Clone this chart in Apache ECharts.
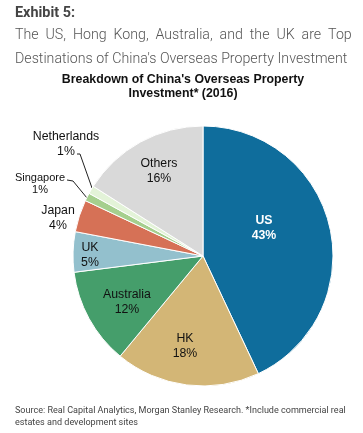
<!DOCTYPE html>
<html><head><meta charset="utf-8">
<style>html,body{margin:0;padding:0;background:#fff}#c{width:363px;height:433px}</style>
<script src="https://cdn.jsdelivr.net/npm/echarts@6/dist/echarts.min.js"></script></head>
<body><div id="c"></div>
<script>
const categories=["US","HK","Australia","UK","Japan","Singapore","Netherlands","Others"];
const values=[43,18,12,5,4,1,1,16];
const colors=["#0f6d9c","#d3b676","#459e6b","#93c0cd","#d67156","#a5cf8e","#e3f3d8","#d9d9d9"];
const labelCentres={US:[264,228],HK:[185,346],Australia:[127,302],UK:[90,255],Japan:[58,218],Singapore:[40,184],Netherlands:[66,144],Others:[159,171]};
const leaderLines={Netherlands:[[92,188],[80,154],[77,154]],Singapore:[[87,198],[73,181],[67,180]]};
const chart=echarts.init(document.getElementById('c'),null,{renderer:'canvas'});
chart.setOption({
 animation:false,
 backgroundColor:'#fff',
 graphic:[
  {type:'text',x:15,y:6,style:{text:'Exhibit 5:',font:'bold 14.4px Roboto',fill:'#444'}},
  {type:'text',x:15,y:28,style:{text:'The  US,  Hong  Kong,  Australia,  and  the  UK  are  Top',font:'300 14.2px Roboto',fill:'#555'}},
  {type:'text',x:15,y:52,style:{text:"Destinations of China's Overseas Property Investment",font:'300 14.2px Roboto',fill:'#555'}},
  {type:'text',x:183,y:74,style:{text:"Breakdown of China's Overseas Property",font:'bold 12.35px "Liberation Sans"',fill:'#111',align:'center'}},
  {type:'text',x:183,y:88,style:{text:"Investment* (2016)",font:'bold 12.35px "Liberation Sans"',fill:'#111',align:'center'}},
  {type:'text',x:15,y:406,style:{text:"Source: Real Capital Analytics, Morgan Stanley Research. *Include commercial real",font:'9.05px Roboto',fill:'#444'}},
  {type:'text',x:15,y:418,style:{text:"estates and development sites",font:'9.05px Roboto',fill:'#444'}}
 ],
 series:[{
  type:'pie',center:[203,256],radius:[0,130],startAngle:90,clockwise:true,
  itemStyle:{borderColor:'#fff',borderWidth:1},
  data:categories.map((n,i)=>({name:n,value:values[i],itemStyle:{color:colors[i]},
    label:Object.assign({color:(n==='US')?'#fff':'#111',fontWeight:(n==='US')?'bold':'normal'},n==='Singapore'?{fontSize:11,lineHeight:12}:{}),
    labelLine:{show:!!leaderLines[n]}})),
  label:{show:true,position:'outside',overflow:'none',formatter:p=>p.name+'\n'+p.value+'%',fontFamily:'"Liberation Sans"',fontSize:12.3,lineHeight:15,align:'center',verticalAlign:'middle'},
  labelLine:{length:8,length2:8,lineStyle:{color:'#222',width:1}},
  labelLayout:p=>{const n=categories[p.dataIndex],c=labelCentres[n];const r={x:c[0],y:c[1],align:'center',verticalAlign:'middle'};if(leaderLines[n])r.labelLinePoints=leaderLines[n];return r}
 }]
});
</script></body></html>
